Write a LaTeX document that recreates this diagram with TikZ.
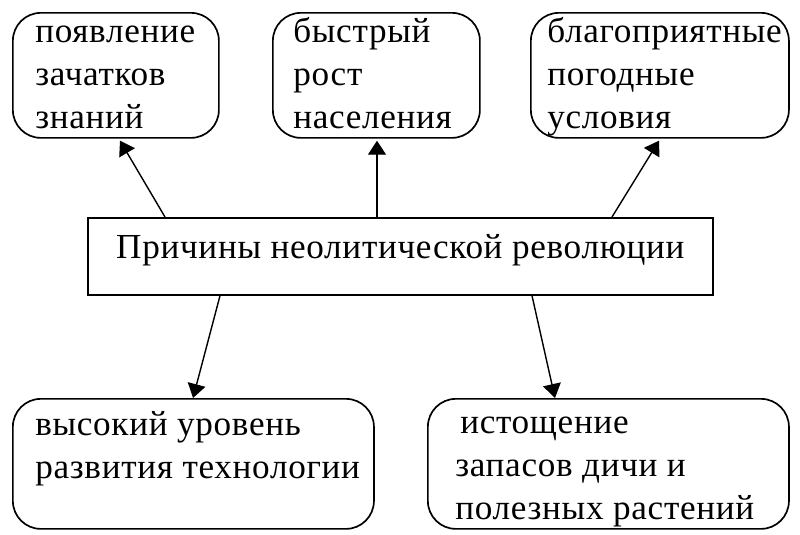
\documentclass[tikz,border=0pt]{standalone}
\usepackage{fontspec}
\setmainfont{Liberation Serif}
\newfontfamily\causefont[LetterSpace=2]{Liberation Serif}
\usetikzlibrary{calc,arrows.meta}
\tikzset{
	causebox/.style={draw, line width=1.2pt, rounded corners=0.7cm, anchor=north west, inner sep=0pt},
	boxtext/.style={anchor=base west, align=left, inner sep=0pt, font=\causefont\fontsize{25}{30.5}\selectfont},
	causearrow/.style={line width=1pt, -{Triangle[length=0.35cm, width=0.45cm]}}
}

\begin{document}
\begin{tikzpicture}[x=0.025cm, y=-0.025cm]
			%%%%% START %%%%%
			\useasboundingbox (0, 0) rectangle (800, 534);
			
			\node[draw, line width=1.2pt, anchor=north west, minimum width=15.625cm, minimum height=1.925cm,
				text height=0.75cm, text depth=0.625cm, font=\causefont\fontsize{25}{30.5}\selectfont] (prichiny) at (87, 217) {Причины неолитической революции};
			
			% the base of a text of several lines is that of its last line
			\node[causebox, minimum width=5.15cm, minimum height=3.125cm] (znaniya) at (12, 12) {};
			\node[boxtext] (znaniyatext) at (35, 128) {появление\\зачатков\\знаний};
			
			\node[causebox, minimum width=5.175cm, minimum height=3.125cm] (rost) at (272, 12) {};
			\node[boxtext] (rosttext) at (293, 128) {быстрый\\рост\\населения};
			
			\node[causebox, minimum width=6.45cm, minimum height=3.125cm] (pogoda) at (530, 12) {};
			\node[boxtext] (pogodatext) at (547, 128) {благоприятные\\погодные\\условия};
			
			\node[causebox, minimum width=9.025cm, minimum height=3.25cm] (tekhnika) at (12, 398) {};
			\node[boxtext] (tekhnikatext) at (35, 478) {высокий уровень\\развития технологии};
			
			\node[causebox, minimum width=9.025cm, minimum height=3.25cm] (dich) at (427, 398) {};
			\node[boxtext] (dichtext) at (455, 519) {\hspace*{0.125cm}истощение\\запасов дичи и\\полезных растений};
			
			\draw[causearrow] ($(prichiny.north west)+(78, 0)$) -- ($(znaniya.south west)+(108, 2)$);
			\draw[causearrow] ($(prichiny.north west)+(290, 0)$) -- ($(rost.south west)+(105, 2)$);
			\draw[causearrow] ($(prichiny.north west)+(525, 0)$) -- ($(pogoda.south west)+(129, 2)$);
			\draw[causearrow] ($(prichiny.south west)+(133, 0)$) -- ($(tekhnika.north west)+(181, 0)$);
			\draw[causearrow] ($(prichiny.south west)+(445, 0)$) -- ($(dich.north west)+(128, 0)$);
			%%%%% END %%%%%
		\end{tikzpicture}
\end{document}
